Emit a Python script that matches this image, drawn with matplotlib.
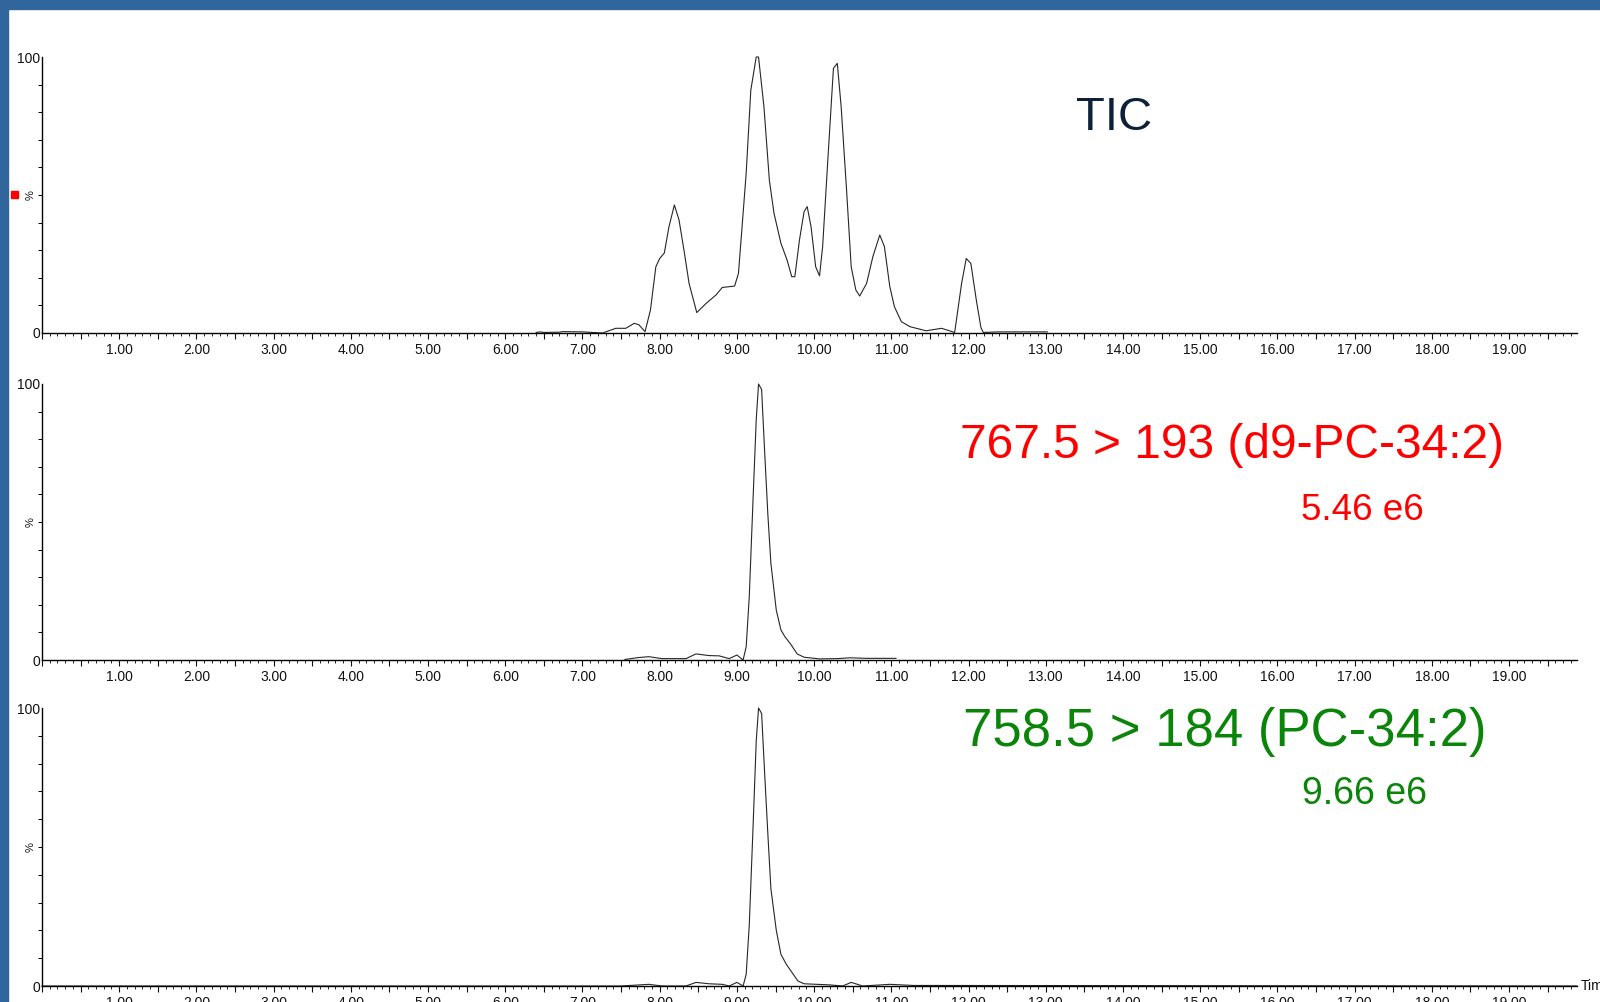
import matplotlib
matplotlib.use("Agg")
import matplotlib.pyplot as plt
import matplotlib.ticker as mticker
from matplotlib.patches import Rectangle

plt.rcParams['font.family'] = ['Liberation Sans', 'DejaVu Sans']

# TIC trace (retention time in min, relative intensity in %)
tic_t = [6.40, 6.45, 6.50, 6.70, 6.75, 7.00, 7.26, 7.43, 7.56, 7.67, 7.73, 7.81,
         7.88, 7.95, 8.00, 8.06, 8.12, 8.19, 8.25, 8.32, 8.38, 8.48, 8.60, 8.73,
         8.81, 8.97, 9.02, 9.07, 9.12, 9.18, 9.25, 9.28, 9.35, 9.42, 9.48, 9.57,
         9.65, 9.71, 9.75, 9.81, 9.87, 9.91, 9.96, 10.02, 10.07, 10.11, 10.18,
         10.25, 10.30, 10.35, 10.42, 10.48, 10.54, 10.59, 10.68, 10.76, 10.85,
         10.91, 10.98, 11.04, 11.13, 11.24, 11.45, 11.65, 11.82, 11.91, 11.97,
         12.03, 12.10, 12.16, 12.19, 12.40, 13.02]
tic_v = [0.2, 0.4, 0.2, 0.3, 0.5, 0.4, 0.0, 1.7, 1.7, 3.5, 3.0, 0.5,
         8.3, 24, 27, 29, 38.5, 46.4, 41, 29, 18, 7.4, 10.7, 13.8,
         16.5, 17, 21.6, 39.7, 57.9, 88, 100, 100, 82, 55.4, 43.4, 32.5,
         26.4, 20.4, 20.4, 33.7, 44, 45.8, 38.5, 24, 20.7, 31.3, 63.9,
         95.9, 97.7, 82, 51.8, 24, 15.6, 13.4, 18, 27.6, 35.5,
         31.3, 16.8, 9.5, 4.1, 2.3, 0.8, 1.7, 0.2, 18, 27,
         25.2, 12, 2, 0.2, 0.4, 0.4]

# MRM 767.5 > 193 (d9-PC-34:2)
mrm1_t = [7.55, 7.73, 7.86, 8.03, 8.34, 8.47, 8.64, 8.77, 8.90, 9.00, 9.08, 9.12,
          9.16, 9.21, 9.25, 9.28, 9.32, 9.36, 9.40, 9.44, 9.51, 9.57, 9.62, 9.70,
          9.78, 9.87, 10.07, 10.30, 10.46, 10.68, 11.06]
mrm1_v = [0.2, 0.9, 1.2, 0.5, 0.5, 2.2, 1.6, 1.5, 0.5, 1.8, 0.0, 4.8,
          23, 59, 87, 100, 98, 75, 53, 35, 18, 10.9, 8.5, 5.6,
          2.2, 1.0, 0.4, 0.5, 0.8, 0.6, 0.6]

# MRM 758.5 > 184 (PC-34:2)
mrm2_t = [0.0, 7.50, 7.86, 8.03, 8.34, 8.47, 8.64, 8.81, 8.90, 9.00, 9.08, 9.12,
          9.16, 9.21, 9.25, 9.28, 9.32, 9.36, 9.40, 9.44, 9.51, 9.57, 9.64, 9.70,
          9.79, 9.87, 10.20, 10.37, 10.48, 10.63, 10.98, 11.28, 19.88]
mrm2_v = [0.0, 0.0, 0.6, 0.0, 0.0, 1.3, 0.8, 0.6, 0.0, 1.3, 0.0, 4.2,
          22, 58, 88, 100, 98, 76, 55, 35, 20, 11.4, 7.8, 5.4,
          1.8, 0.8, 0.4, 0.0, 1.3, 0.0, 0.6, 0.2, 0.0]

titles = ["TIC", "767.5 > 193 (d9-PC-34:2)", "758.5 > 184 (PC-34:2)"]
intensities = [None, "5.46 e6", "9.66 e6"]

W, H = 1600, 1002
fig = plt.figure(figsize=(W / 100, H / 100), dpi=100)

BLUE = "#31669c"
fig.add_artist(Rectangle((0, 1 - 9 / H), 1, 9 / H, transform=fig.transFigure,
                         color=BLUE, zorder=10))
fig.add_artist(Rectangle((0, 0), 8 / W, 1, transform=fig.transFigure,
                         color=BLUE, zorder=10))
fig.add_artist(Rectangle((11 / W, 1 - 198 / H), 7 / W, 7 / H,
                         transform=fig.transFigure, color="red", zorder=10))

XMAX = 19.88
panels = [(57, 333), (384, 660), (708, 986)]
traces = [(tic_t, tic_v), (mrm1_t, mrm1_v), (mrm2_t, mrm2_v)]

axes = []
for (top, bot), (t, v) in zip(panels, traces):
    ax = fig.add_axes([42 / W, 1 - bot / H, (1577 - 42) / W, (bot - top) / H])
    ax.plot(t, v, color="#262626", lw=0.8, clip_on=False)
    ax.set_xlim(0, XMAX)
    ax.set_ylim(0, 100)
    for s in ["top", "right"]:
        ax.spines[s].set_visible(False)
    for s in ["left", "bottom"]:
        ax.spines[s].set_linewidth(1.0)

    ax.xaxis.set_major_locator(mticker.MultipleLocator(0.5))
    ax.xaxis.set_minor_locator(mticker.MultipleLocator(0.1))
    ax.xaxis.set_major_formatter(mticker.FuncFormatter(
        lambda x, p: f"{x:.2f}" if abs(x - round(x)) < 1e-6 and x > 0.5 else ""))
    ax.tick_params(axis="x", which="major", length=4.5, width=0.8,
                   labelsize=10, pad=2.5, colors="#111111")
    ax.tick_params(axis="x", which="minor", length=2.2, width=0.6)

    ax.set_yticks([0, 100])
    ax.set_yticklabels(["0", "100"])
    ax.yaxis.set_minor_locator(mticker.MultipleLocator(10))
    ax.tick_params(axis="y", which="major", length=0, labelsize=10, pad=1,
                   colors="#111111")
    ax.tick_params(axis="y", which="minor", length=3, width=0.7)
    ax.text(-0.004, 0.5, "%", rotation=90, transform=ax.transAxes,
            ha="right", va="center", fontsize=8, color="#111111")
    axes.append(ax)


def px(x, y):
    return x / W, 1 - y / H


fig.text(*px(1114, 118), titles[0], ha="center", va="center",
         fontsize=34, color="#0d2238")
fig.text(*px(1232, 445), titles[1], ha="center", va="center",
         fontsize=34.5, color="#ff0000")
fig.text(*px(1362, 511), intensities[1], ha="center", va="center",
         fontsize=26.5, color="#ff0000")
fig.text(*px(1225, 732), titles[2], ha="center", va="center",
         fontsize=38, color="#0a850a")
fig.text(*px(1365, 794), intensities[2], ha="center", va="center",
         fontsize=27, color="#0a850a")
fig.text(*px(1581, 986), "Time", ha="left", va="center",
         fontsize=10, color="#111111")

fig.savefig("out.png", dpi=100)
